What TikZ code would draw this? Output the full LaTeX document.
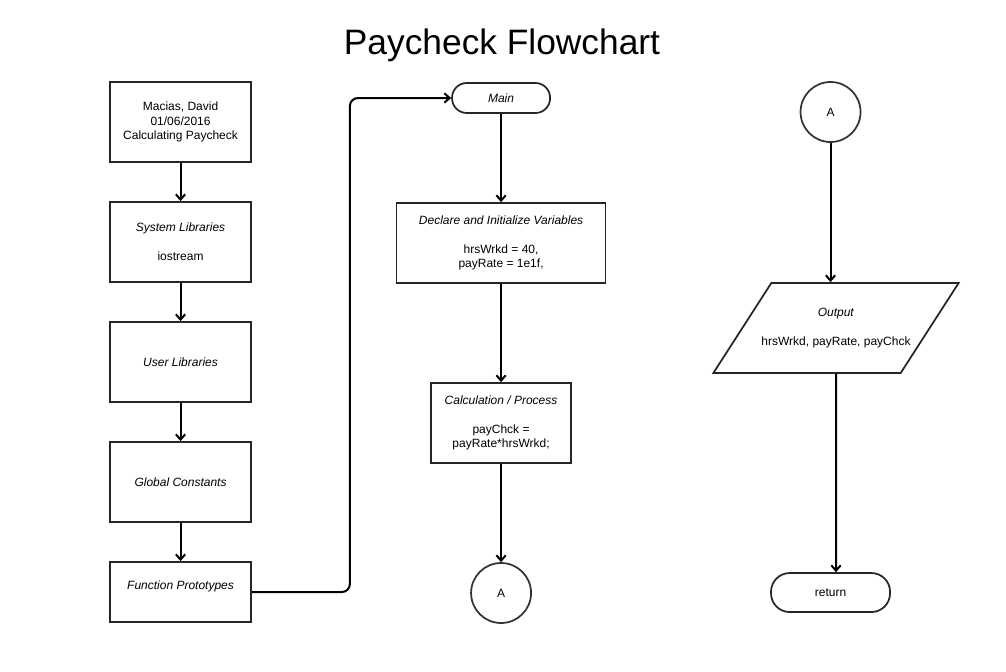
\documentclass[tikz,border=0pt]{standalone}
\usepackage{fontspec}
\setmainfont{Liberation Sans}
\usepackage{tikz}
\usetikzlibrary{positioning, shapes.geometric, arrows.meta}

\begin{document}
\begin{tikzpicture}[>={Straight Barb[length=4pt,width=7pt]}, node distance=90pt, on grid, line width=1.5pt,
            every node/.style={font=\fontsize{9}{10.9}\selectfont, align=center},
            every edge/.style={draw, line width=1.5pt},
            proc/.style={draw=black!85, line width=1.3pt, rectangle, minimum width=105.75pt, minimum height=60pt},
            term/.style={draw=black!85, line width=1.3pt, rectangle, rounded corners=11pt, minimum width=73.5pt, minimum height=22.5pt},
            conn/.style={draw=black!80, line width=1.3pt, circle, minimum size=45pt},
            io/.style={draw=black!85, line width=1.3pt, trapezium, trapezium left angle=57, trapezium right angle=123,
              trapezium stretches=true, inner xsep=0pt, inner ysep=18.5pt, minimum width=181.5pt, minimum height=67.5pt}]
            \useasboundingbox (0,0) rectangle (754.5pt,-503.25pt);
            \node [font=\fontsize{26.5}{30}\selectfont, anchor=base] (t_title) at (376.5pt,-40.5pt) {Paycheck Flowchart};
            % left column
            \node [proc] (b_head) at (135.4pt,-91.5pt) {Macias, David\\01/06/2016\\Calculating Paycheck};
            \node [proc] [below=of b_head] (b_sys) {\textit{System Libraries}\\[10.9pt]iostream};
            \node [proc] [below=of b_sys] (b_user) {\textit{User Libraries}};
            \node [proc] [below=of b_user] (b_glob) {\textit{Global Constants}};
            \node [proc, minimum height=45pt] [below=82.5pt of b_glob] (b_proto) {\textit{Function Prototypes}\\\mbox{}};
            % middle column
            \node [term] [above right=18pt and 240.4pt of b_head] (m_main) {\textit{Main}};
            \node [proc, minimum width=156.75pt] [below=108.75pt of m_main] (b_decl) {\textit{Declare and Initialize Variables}\\[10.9pt]hrsWrkd = 40,\\payRate = 1e1f,};
            \node [proc, minimum width=105pt] [below=135pt of b_decl] (b_calc) {\textit{Calculation / Process}\\[10.9pt]payChck =\\payRate*hrsWrkd;};
            \node [conn] [below=127.5pt of b_calc] (c_a) {A};
            % right column
            \node [conn] [below right=10.5pt and 247.1pt of m_main] (c_a2) {A};
            \node [io] [below right=162pt and 4.1pt of c_a2] (o_out) {\makebox[97pt]{\textit{Output}}\\[10.9pt]\makebox[97pt]{hrsWrkd, payRate, payChck}};
            \node [term, minimum width=89.25pt, minimum height=29.25pt, rounded corners=14pt] [below left=198.4pt and 4.1pt of o_out] (r_ret) {return};
            \path[->]
            	(b_head) edge (b_sys)
            	(b_sys) edge (b_user)
            	(b_user) edge (b_glob)
            	(b_glob) edge (b_proto)
            	(m_main) edge (b_decl)
            	(b_decl) edge (b_calc)
            	(b_calc) edge (c_a)
            	(c_a2) edge (c_a2 |- o_out.north)
            	(o_out) edge (o_out |- r_ret.north);
            \draw[->, rounded corners=6pt] (b_proto.east) -- ++(73.5pt,0) |- (m_main.west);
\end{tikzpicture}
\end{document}
